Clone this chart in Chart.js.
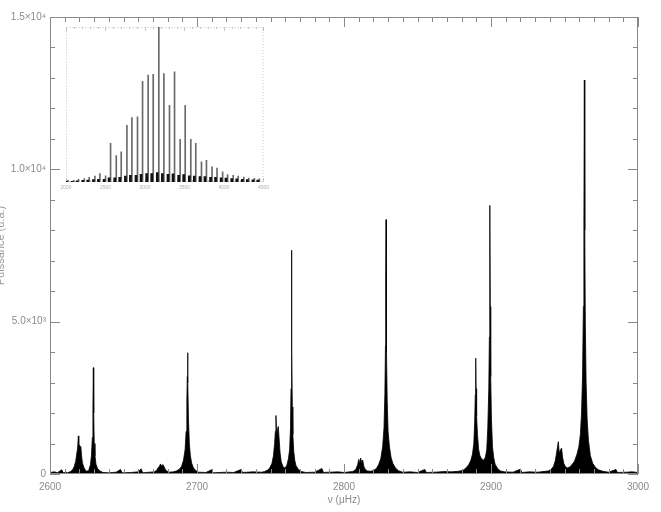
<!DOCTYPE html>
<html>
<head>
<meta charset="utf-8">
<script src="https://cdn.jsdelivr.net/npm/chart.js@4.4.1/dist/chart.umd.min.js"></script>
<style>
  html, body { margin: 0; padding: 0; background: #fff; }
  #wrap { position: relative; width: 661px; height: 512px; }
  #main { position: absolute; left: 0; top: 0; }
  #inset { position: absolute; left: 56px; top: 20px; }
</style>
</head>
<body>
<div id="wrap">
  <canvas id="main" width="661" height="512"></canvas>
  <canvas id="inset" width="216" height="176"></canvas>
</div>
<script>
// main spectrum: [frequency (µHz), power (a.u.)]
const noiseLow = [[2600,50],[2603,70],[2605,40],[2608,140],[2609,40],[2611,60]]
const mode2620 = [[2612,40],[2614,80],[2615.5,150],[2616.5,250],[2617.5,420],[2618.3,700],[2618.8,850],[2619.3,1250],[2619.6,820],[2620,950],[2620.5,900],[2621,880],[2621.5,600],[2622,380],[2623,220],[2624,130],[2625,90],[2626,110]]
const mode2630 = [[2626.5,150],[2627.5,300],[2628.2,600],[2628.8,1200],[2629.2,2200],[2629.5,3490],[2629.75,2000],[2630.1,1000],[2630.6,600],[2631.3,320],[2632.3,180],[2634,100],[2636,50]]
const noise2640 = [[2640,40],[2645,60],[2648,150],[2649,40],[2655,50],[2660,70],[2662,170],[2663,40],[2668,60]]
const mode2677 = [[2671,70],[2672.5,120],[2673.5,200],[2674.5,260],[2675.2,330],[2676,250],[2676.8,310],[2677.6,240],[2678.5,150],[2679.6,90],[2681,60],[2684,70]]
const mode2693 = [[2686,100],[2688,160],[2689.5,250],[2690.8,450],[2691.9,800],[2692.6,1400],[2693.1,2400],[2693.4,3200],[2693.6,3980],[2693.85,3000],[2694.2,1800],[2694.8,1000],[2695.5,600],[2696.4,350],[2697.6,200],[2699,120],[2701,60]]
const noise2710 = [[2706,50],[2710,140],[2711,40],[2720,60],[2725,50],[2730,150],[2731,50],[2738,70],[2744,60]]
const mode2754 = [[2746,80],[2748,130],[2749.5,200],[2751,350],[2752,600],[2752.8,1000],[2753.3,1400],[2753.7,1920],[2754.2,1300],[2754.7,1450],[2755.3,1560],[2755.8,1200],[2756.5,700],[2757.3,400],[2758.5,250],[2759.5,200],[2760.5,230]]
const mode2765 = [[2761.2,300],[2762.2,500],[2763,800],[2763.6,1500],[2763.95,2800],[2764.2,4800],[2764.4,7345],[2764.6,4000],[2764.85,2200],[2765.2,1300],[2765.8,750],[2766.5,450],[2767.3,280],[2769,150],[2771,80],[2774,50]]
const noise2790 = [[2780,60],[2785,180],[2786,50],[2790,60],[2796,70],[2800,50],[2804,70]]
const mode2811 = [[2806,80],[2808,150],[2809.3,300],[2810,480],[2810.6,350],[2811.3,525],[2812,380],[2812.7,460],[2813.5,250],[2814.5,150],[2816,100],[2818,90]]
const mode2828 = [[2820,110],[2822,180],[2823.5,300],[2825,500],[2826.3,900],[2827.2,1500],[2827.8,2600],[2828.2,4200],[2828.4,6300],[2828.6,8350],[2828.8,6000],[2829,4000],[2829.4,2400],[2830,1400],[2830.9,900],[2832,550],[2833.2,350],[2835,200],[2837,110],[2840,60]]
const noise2860 = [[2845,70],[2850,50],[2855,150],[2856,50],[2862,60],[2868,80],[2873,70],[2878,90]]
const mode2890 = [[2881,120],[2883,200],[2884.8,300],[2886.3,450],[2887.4,650],[2888.3,1000],[2888.9,1700],[2889.3,2600],[2889.6,3800],[2889.85,2800],[2890.2,1900],[2890.8,1300],[2891.6,800],[2892.5,600],[2893.5,500],[2894.3,480]]
const mode2899 = [[2895,450],[2896.2,550],[2897.1,800],[2897.8,1500],[2898.5,2800],[2898.9,4500],[2899.1,6500],[2899.3,8816],[2899.5,5500],[2899.8,3200],[2900.3,1800],[2901,900],[2901.8,550],[2902.8,320],[2904.5,180],[2906.5,100],[2909,70]]
const noise2925 = [[2915,60],[2920,160],[2921,50],[2926,70],[2932,60],[2937,90]]
const mode2946 = [[2939,100],[2941,160],[2942.5,250],[2943.8,450],[2944.8,750],[2945.8,1060],[2946.4,700],[2947.2,780],[2948,850],[2948.7,550],[2949.5,350],[2950.5,250],[2952,200]]
const mode2963 = [[2953.5,230],[2955,300],[2956.8,420],[2958.5,650],[2959.8,900],[2960.8,1300],[2961.6,2000],[2962.3,3300],[2962.85,5500],[2963.2,8200],[2963.5,12930],[2963.8,8000],[2964.15,5000],[2964.7,3000],[2965.4,1800],[2966.3,1100],[2967.6,600],[2969.2,350],[2971,220],[2973,140],[2976,90]]
const noiseHigh = [[2980,60],[2985,150],[2986,50],[2992,60],[2996,70],[3000,50]]

const xTickLabels = ["2600", "2700", "2800", "2900", "3000"]
const yTickLabels = ["0", "5.0×10³", "1.0×10⁴", "1.5×10⁴"]

// inset: whole p-mode envelope, one spike per mode
const insetFreq = [2018,2090,2153,2225,2288,2360,2423,2495,2558,2630,2693,2765,2828,2899,2963,3034,3098,3169,3233,3304,3368,3439,3503,3574,3637,3709,3772,3843,3906,3977,4040,4111,4174,4245,4308,4379,4442]
const insetPeak = [200,200,350,430,600,780,1080,800,5000,3400,3900,7300,8300,8400,13000,13800,13900,21000,14000,9900,14200,5500,9900,5500,5000,2600,2800,1950,1800,1300,950,850,750,650,520,460,400]
const insetBase = [100,100,150,200,250,300,350,350,550,550,600,750,850,850,1000,1100,1100,1200,1100,1000,1050,850,950,800,750,700,700,600,600,550,500,450,400,350,300,280,250]
const insetTickLabels = ["2000", "2500", "3000", "3500", "4000", "4500"]

const axisGrey = "#8a8a8a"
const labelFont = { family: "'Liberation Sans', sans-serif", size: 10 }

const spectrum = [].concat(noiseLow, mode2620, mode2630, noise2640, mode2677, mode2693,
  noise2710, mode2754, mode2765, noise2790, mode2811, mode2828, noise2860, mode2890,
  mode2899, noise2925, mode2946, mode2963, noiseHigh)
  .map(([x, y]) => ({ x, y }))
  .sort((a, b) => a.x - b.x)

// IDL-style box: frame plus inward ticks on all four sides
const boxTicks = {
  id: "boxTicks",
  afterDraw(chart) {
    const { ctx, chartArea: a, scales: { x, y } } = chart
    ctx.save()
    ctx.strokeStyle = axisGrey
    ctx.lineWidth = 1
    ctx.beginPath()
    ctx.rect(a.left + 0.5, a.top + 0.5, a.width - 1, a.height - 1)
    for (let v = 2600; v <= 3000; v += 10) {
      const px = Math.round(x.getPixelForValue(v)) + 0.5
      const len = v % 100 === 0 ? 10 : 5
      ctx.moveTo(px, a.bottom); ctx.lineTo(px, a.bottom - len)
      ctx.moveTo(px, a.top); ctx.lineTo(px, a.top + len)
    }
    for (let v = 0; v <= 15000; v += 1000) {
      const py = Math.round(y.getPixelForValue(v)) + 0.5
      const len = v % 5000 === 0 ? 10 : 5
      ctx.moveTo(a.left, py); ctx.lineTo(a.left + len, py)
      ctx.moveTo(a.right, py); ctx.lineTo(a.right - len, py)
    }
    ctx.stroke()

    // y title sits half off the left edge in the original
    ctx.fillStyle = "#9a9a9a"
    ctx.font = "11px 'Liberation Sans', sans-serif"
    ctx.translate(4, (a.top + a.bottom) / 2)
    ctx.rotate(-Math.PI / 2)
    ctx.textAlign = "center"
    ctx.textBaseline = "alphabetic"
    ctx.fillText("Puissance (u.a.)", 0, 0)
    ctx.restore()
  }
}

new Chart(document.getElementById("main"), {
  type: "line",
  data: {
    datasets: [{
      data: spectrum,
      borderColor: "#000",
      backgroundColor: "#000",
      borderWidth: 0.8,
      pointRadius: 0,
      fill: "origin",
      tension: 0
    }]
  },
  options: {
    responsive: false,
    animation: false,
    devicePixelRatio: 1,
    layout: { padding: { left: 0, right: 23, top: 17, bottom: 0 } },
    plugins: { legend: { display: false }, tooltip: { enabled: false } },
    scales: {
      x: {
        type: "linear",
        min: 2600,
        max: 3000,
        grid: { display: false, drawTicks: false },
        border: { display: false },
        ticks: {
          stepSize: 100,
          padding: 7,
          maxRotation: 0,
          color: axisGrey,
          font: labelFont,
          callback: (v) => xTickLabels[(v - 2600) / 100]
        },
        title: { display: true, text: "ν (μHz)", color: axisGrey, font: labelFont, padding: { top: 0, bottom: 6 } },
        afterFit: (s) => { s.height = 38 }
      },
      y: {
        min: 0,
        max: 15000,
        grid: { display: false, drawTicks: false },
        border: { display: false },
        ticks: {
          stepSize: 5000,
          padding: 4,
          color: axisGrey,
          font: labelFont,
          callback: (v) => yTickLabels[v / 5000]
        },
        afterFit: (s) => { s.width = 50 }
      }
    }
  },
  plugins: [boxTicks]
})

// dotted frame of the inset
const insetFrame = {
  id: "insetFrame",
  beforeDatasetsDraw(chart) {
    const { ctx, chartArea: a, scales: { x } } = chart
    ctx.save()
    ctx.strokeStyle = "#c4c4c4"
    ctx.lineWidth = 1
    ctx.setLineDash([1, 2])
    ctx.strokeRect(a.left + 0.5, a.top + 0.5, a.width - 1, a.height - 1)
    ctx.setLineDash([])
    ctx.beginPath()
    for (let v = 2000; v <= 4500; v += 100) {
      const px = Math.round(x.getPixelForValue(v)) + 0.5
      const len = v % 500 === 0 ? 4 : 2
      ctx.moveTo(px, a.bottom); ctx.lineTo(px, a.bottom - len)
      ctx.moveTo(px, a.top); ctx.lineTo(px, a.top + len)
    }
    ctx.stroke()
    ctx.restore()
  }
}

new Chart(document.getElementById("inset"), {
  type: "bar",
  data: {
    datasets: [
      {
        data: insetFreq.map((f, i) => ({ x: f, y: insetBase[i] })),
        backgroundColor: "#111",
        barThickness: 2
      },
      {
        data: insetFreq.map((f, i) => ({ x: f, y: insetPeak[i] })),
        backgroundColor: "#6a6a6a",
        barThickness: 1
      }
    ]
  },
  options: {
    responsive: false,
    animation: false,
    devicePixelRatio: 1,
    layout: { padding: { left: 10, right: 6, top: 7, bottom: 0 } },
    plugins: { legend: { display: false }, tooltip: { enabled: false } },
    scales: {
      x: {
        type: "linear",
        min: 2000,
        max: 4500,
        offset: false,
        stacked: false,
        grid: { display: false, drawTicks: false, offset: false },
        border: { display: false },
        ticks: {
          stepSize: 500,
          padding: 3,
          maxRotation: 0,
          color: "#b0b0b0",
          font: { family: "'Liberation Sans', sans-serif", size: 5 },
          callback: (v) => insetTickLabels[(v - 2000) / 500]
        },
        afterFit: (s) => { s.height = 14 }
      },
      y: {
        display: false,
        min: 0,
        max: 20000
      }
    }
  },
  plugins: [insetFrame]
})
</script>
</body>
</html>
